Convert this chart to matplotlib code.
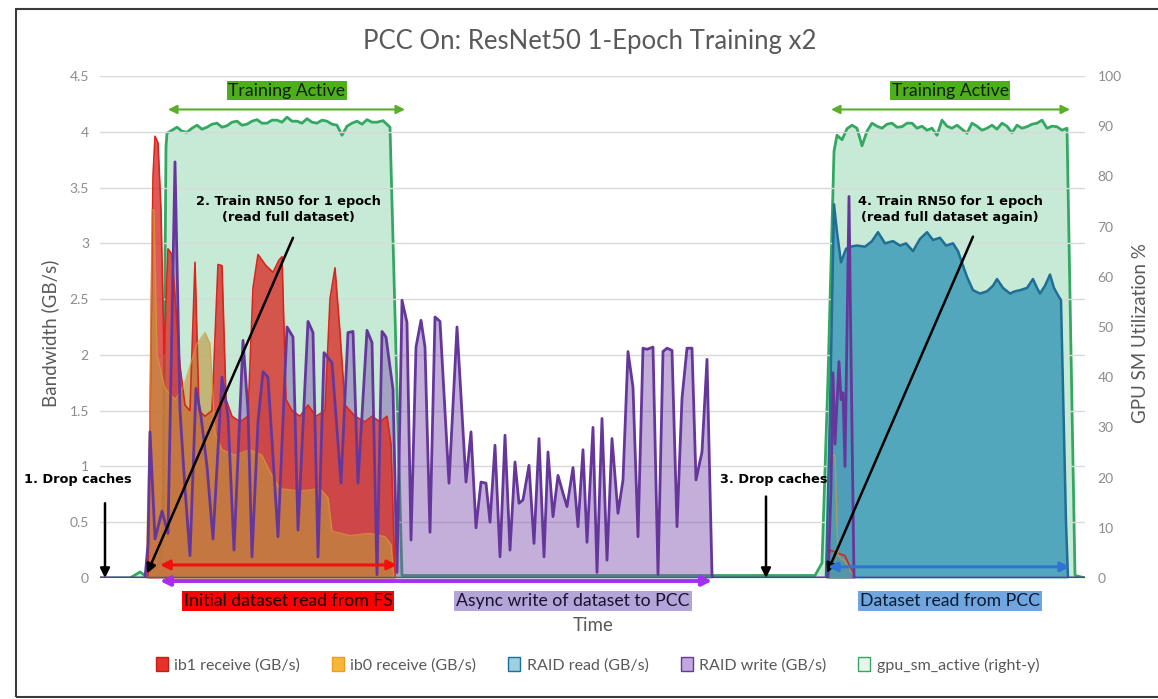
import numpy as np
import matplotlib
matplotlib.use("Agg")
import matplotlib.pyplot as plt
from matplotlib.patches import Patch, Rectangle

# ---------------- data (time in arbitrary sample units) ----------------
# gpu_sm_active (%), right axis
gpu_t = ([0, 30, 40, 45, 55, 60, 63, 66]
         + list(range(67, 278, 5))
         + [283, 290, 296, 302, 715, 722, 728, 734]
         + list(range(737, 968, 5))
         + [975, 985])
gpu_pct = ([0, 0, 1.2, 0.5, 2, 3, 10, 86]
           + [88.6, 89.2, 89.8, 89.0, 88.8, 89.6, 90.2, 89.4, 89.8, 90.4, 90.6, 89.8, 90.1, 90.8,
              91.0, 90.2, 90.4, 91.0, 91.3, 90.6, 90.6, 91.2, 91.2, 90.8, 91.8, 91.0, 91.0, 90.6,
              91.5, 90.8, 90.6, 91.2, 91.0, 90.4, 90.2, 88.2, 90.0, 90.6, 91.0, 90.4, 91.3, 90.8, 90.8]
           + [91.1, 89.8, 45, 0.5, 0.5, 3, 40, 85]
           + [88.2, 87.3, 89.5, 90.2, 89.6, 86.1, 89.0, 90.6, 90.0, 89.6, 90.4, 90.6, 89.8, 89.9,
              90.6, 90.6, 89.6, 90.0, 89.2, 89.6, 88.2, 91.2, 90.0, 89.6, 90.2, 89.4, 88.6, 90.6,
              90.0, 89.2, 89.6, 90.2, 89.4, 90.6, 90.0, 88.7, 90.2, 89.6, 89.9, 90.4, 90.6, 91.2,
              89.6, 90.0, 89.9, 89.2, 89.6]
           + [0.5, 0])

ib1_t = [0, 48, 53, 55, 58, 61, 64, 68, 72, 76, 80, 85, 90, 95, 99, 105, 112, 118, 122, 126, 132, 140,
         148, 153, 158, 166, 173, 179, 182, 186, 192, 200, 208, 216, 225, 230, 235, 240, 245, 255, 265,
         272, 280, 287, 291, 295, 726, 730, 745, 755, 985]
ib1_gbs = [0, 0, 3.6, 3.96, 3.9, 3.3, 2.0, 2.95, 2.9, 2.4, 1.9, 1.55, 1.5, 2.83, 1.5, 1.45, 1.5, 2.81, 2.8,
           1.6, 1.45, 1.4, 1.45, 2.6, 2.9, 2.8, 2.74, 2.85, 2.88, 1.6, 1.5, 1.45, 1.55, 1.45, 1.5, 2.5,
           2.78, 2.2, 1.55, 1.45, 1.4, 1.45, 1.4, 1.45, 1.2, 0, 0, 0.25, 0.2, 0, 0]

ib0_t = [0, 46, 50, 52, 54, 57, 65, 75, 83, 90, 97, 105, 110, 115, 122, 135, 150, 162, 170, 180, 200,
         220, 228, 232, 250, 270, 285, 291, 294, 728, 730, 735, 738, 745, 755, 985]
ib0_gbs = [0, 0, 1.5, 3.3, 3.3, 2.0, 1.7, 1.6, 1.7, 1.9, 2.1, 2.2, 2.1, 1.3, 1.15, 1.1, 1.15, 1.1, 0.95,
           0.8, 0.78, 0.8, 0.72, 0.42, 0.38, 0.4, 0.37, 0.3, 0, 0, 1.1, 1.1, 0.2, 0.15, 0, 0]

raid_read_t = [0, 726, 730, 734, 737, 741, 746, 750, 757, 765, 772, 778, 785, 793, 800, 806, 813, 820,
               827, 833, 840, 846, 853, 858, 863, 867, 873, 880, 887, 893, 897, 903, 910, 915, 920, 927,
               933, 937, 940, 945, 950, 954, 957, 961, 966, 968, 985]
raid_read_gbs = [0, 0, 1.5, 3.35, 3.1, 2.83, 2.95, 2.97, 2.98, 2.97, 3.02, 3.1, 3.0, 3.02, 2.98, 3.0,
                 2.93, 3.04, 3.1, 3.03, 3.05, 2.98, 3.0, 2.93, 2.8, 2.7, 2.58, 2.55, 2.57, 2.62, 2.68,
                 2.6, 2.55, 2.57, 2.58, 2.6, 2.68, 2.6, 2.55, 2.62, 2.72, 2.6, 2.55, 2.49, 0.5, 0, 0]

raid_write_t = [0, 45, 48, 50, 55, 62, 68, 75, 80, 85, 90, 96, 101, 107, 113, 122, 128, 134, 143, 148,
                152, 158, 163, 168, 178, 187, 193, 198, 208, 213, 218, 224, 232, 241, 248, 253, 258,
                267, 272, 277, 282, 286, 293, 297, 302, 307, 311, 316, 321, 325, 330, 335, 340, 349,
                357, 366, 371, 376, 381, 386, 390, 395, 400, 405, 410, 415, 419, 423, 429, 434, 439,
                444, 448, 453, 458, 463, 467, 473, 478, 483, 487, 493, 497, 502, 507, 512, 518, 523,
                528, 533, 538, 543, 547, 553, 558, 563, 567, 572, 577, 582, 587, 592, 596, 602, 607,
                612, 613, 728, 731, 733, 735, 739, 741, 743, 745, 749, 751, 754, 985]
raid_write_gbs = [0, 0, 0.3, 1.31, 0.35, 0.6, 0.4, 3.73, 1.5, 0.8, 0.2, 1.7, 1.45, 1.0, 0.35, 1.8, 1.45,
                  0.25, 2.13, 1.5, 0.19, 1.4, 1.85, 1.8, 0.37, 2.25, 2.16, 0.43, 2.3, 2.2, 0.19, 2.02,
                  1.93, 0.85, 2.2, 2.21, 0.85, 2.22, 2.11, 0.03, 2.21, 2.16, 1.69, 0.05, 2.49, 2.29,
                  0.34, 2.07, 2.31, 2.07, 0.41, 2.34, 2.3, 0.85, 2.25, 0.86, 1.31, 0.45, 0.86, 0.85,
                  0.5, 1.19, 0.19, 1.28, 0.25, 1.04, 0.67, 0.7, 1.01, 0.31, 1.25, 0.19, 1.13, 0.55,
                  0.92, 0.76, 0.64, 0.99, 0.46, 1.15, 0.32, 1.35, 0.05, 1.43, 0.16, 1.25, 0.58, 0.88,
                  2.03, 1.71, 0.37, 2.06, 2.05, 2.07, 0.03, 2.03, 2.06, 2.04, 0.46, 1.61, 2.06, 2.06,
                  0.88, 1.13, 1.96, 0.03, 0, 0, 0.8, 1.84, 1.2, 1.94, 1.6, 1.66, 1.0, 3.42, 2.0, 0, 0]

legend_labels = ["ib1 receive (GB/s)", "ib0 receive (GB/s)", "RAID read (GB/s)",
                 "RAID write (GB/s)", "gpu_sm_active (right-y)"]
left_ticks = [0, 0.5, 1, 1.5, 2, 2.5, 3, 3.5, 4, 4.5]
right_ticks = [0, 10, 20, 30, 40, 50, 60, 70, 80, 90, 100]

# ---------------- figure ----------------
plt.rcParams['font.family'] = ['Lato', 'DejaVu Sans']
fig = plt.figure(figsize=(11.58, 6.99), dpi=100)
ax = fig.add_axes([100 / 1158, 1 - 578 / 699, 985 / 1158, 502 / 699])
ax2 = ax.twinx()
ax.set_zorder(ax2.get_zorder() + 1)
ax.patch.set_visible(False)

GREEN = "#34a862"
BLUE = "#1f6e94"
PURPLE = "#66379b"

# secondary (gpu) behind
ax2.fill_between(gpu_t, gpu_pct, color="#5cc38a", alpha=0.35, lw=0)
ax2.plot(gpu_t, gpu_pct, color=GREEN, lw=2)

# primary series
ax.fill_between(raid_write_t, raid_write_gbs, color="#7a4fae", alpha=0.45, lw=0)
ax.fill_between(ib1_t, ib1_gbs, color="#d8302a", alpha=0.8, lw=0)
ax.plot(ib1_t, ib1_gbs, color="#d9261c", lw=1.2)
ax.fill_between(ib0_t, ib0_gbs, color="#c0953e", alpha=0.62, lw=0)
ax.plot(ib0_t, ib0_gbs, color="#d99a3a", lw=1.0, alpha=0.7)
ax.fill_between(raid_read_t, raid_read_gbs, color="#3f9cb8", alpha=0.85, lw=0)
ax.plot(raid_read_t, raid_read_gbs, color=BLUE, lw=1.8)
ax.plot(raid_write_t, raid_write_gbs, color=PURPLE, lw=2)

ax.set_xlim(0, 985)
ax.set_ylim(0, 4.5)
ax2.set_ylim(0, 100)
ax.set_xticks([])
ax.set_yticks(left_ticks)
ax.set_yticklabels([f"{v:g}" for v in left_ticks])
ax2.set_yticks(right_ticks)
ax2.set_yticklabels([str(v) for v in right_ticks])
ax.tick_params(axis='y', length=0, pad=8, labelsize=10, labelcolor="#8c8c8c")
ax2.tick_params(axis='y', length=0, pad=9, labelsize=10, labelcolor="#8c8c8c")
ax.yaxis.grid(True, color="#d9d9d9", lw=1)
ax.set_axisbelow(True)
for a in (ax, ax2):
    for s in a.spines.values():
        s.set_visible(False)

# titles / labels
fig.text(0.509, 1 - 42 / 699, "PCC On: ResNet50 1-Epoch Training x2", ha="center", va="center",
         fontsize=18.5, color="#595959")
fig.text(50 / 1158, 1 - 333 / 699, "Bandwidth (GB/s)", rotation=90, ha="center", va="center",
         fontsize=13.5, color="#595959")
fig.text(1140 / 1158, 1 - 333 / 699, "GPU SM Utilization %", rotation=90, ha="center", va="center",
         fontsize=13.5, color="#595959")
ax.text(493, -0.43, "Time", ha="center", va="center", fontsize=13.5, color="#595959", clip_on=False)

# annotations
bold = dict(fontsize=9.3, fontweight="bold", family="DejaVu Sans", color="black", ha="center", va="center")
ax.text(-22, 0.88, "1. Drop caches", **bold)
ax.text(188, 3.30, "2. Train RN50 for 1 epoch\n(read full dataset)", linespacing=1.3, **bold)
ax.text(674, 0.88, "3. Drop caches", **bold)
ax.text(850, 3.30, "4. Train RN50 for 1 epoch\n(read full dataset again)", linespacing=1.3, **bold)

def arrow(x0, y0, x1, y1, color, style="-|>", lw=1.8, ms=14):
    ax.annotate("", xy=(x1, y1), xytext=(x0, y0),
                arrowprops=dict(arrowstyle=style, color=color, lw=lw, mutation_scale=ms,
                                shrinkA=0, shrinkB=0), annotation_clip=False)

arrow(5, 0.67, 5, 0.0, "black")
arrow(193, 3.05, 47, 0.04, "black")
arrow(666, 0.73, 666, 0.0, "black")
arrow(873, 3.06, 727, 0.045, "black")

arrow(68, 4.20, 305, 4.20, "#5aae2a", style="<|-|>", lw=1.5, ms=13)
arrow(731, 4.20, 970, 4.20, "#5aae2a", style="<|-|>", lw=1.5, ms=13)
arrow(60, 0.117, 297, 0.117, "#f01010", style="<|-|>", lw=2.2, ms=14)
arrow(60, -0.027, 612, -0.027, "#a52ef0", style="<|-|>", lw=2.8, ms=14)
arrow(728, 0.10, 970, 0.10, "#2f74d0", style="<|-|>", lw=2.2, ms=14)

boxlab = dict(fontsize=12.7, ha="center", va="center", clip_on=False)
ax.text(187, 4.37, "Training Active", color="#10200a",
        bbox=dict(boxstyle="square,pad=0.1", fc="#4fae1c", ec="none"), **boxlab)
ax.text(850, 4.37, "Training Active", color="#10200a",
        bbox=dict(boxstyle="square,pad=0.1", fc="#4fae1c", ec="none"), **boxlab)
ax.text(188, -0.206, "Initial dataset read from FS", color="#1a0000",
        bbox=dict(boxstyle="square,pad=0.1", fc="#ff0000", ec="none"), **boxlab)
ax.text(473, -0.206, "Async write of dataset to PCC", color="#1a1030",
        bbox=dict(boxstyle="square,pad=0.1", fc="#b4a5d8", ec="none"), **boxlab)
ax.text(850, -0.206, "Dataset read from PCC", color="#0a1a30",
        bbox=dict(boxstyle="square,pad=0.1", fc="#6fa6e0", ec="none"), **boxlab)

# legend
handles = [Patch(fc="#e8312a", ec="#c42018"), Patch(fc="#f7b637", ec="#e9a020"),
           Patch(fc="#9ed0e4", ec="#1f6e94"), Patch(fc="#c0a8dc", ec="#66379b"),
           Patch(fc="#e6f6ec", ec="#34a862")]
fig.legend(handles, legend_labels, loc="center", bbox_to_anchor=(0.516, 1 - 665 / 699), ncol=5,
           frameon=False, fontsize=11.5, handlelength=0.75, handleheight=0.9, columnspacing=2.0,
           handletextpad=0.4, labelcolor="#595959")

# outer frame
fig.add_artist(Rectangle((16 / 1158, 1 - 697 / 699), 1.2, (697 - 9) / 699, transform=fig.transFigure,
                         fill=False, ec="#3a3a3a", lw=1.5))

fig.savefig("out.png", dpi=100)
